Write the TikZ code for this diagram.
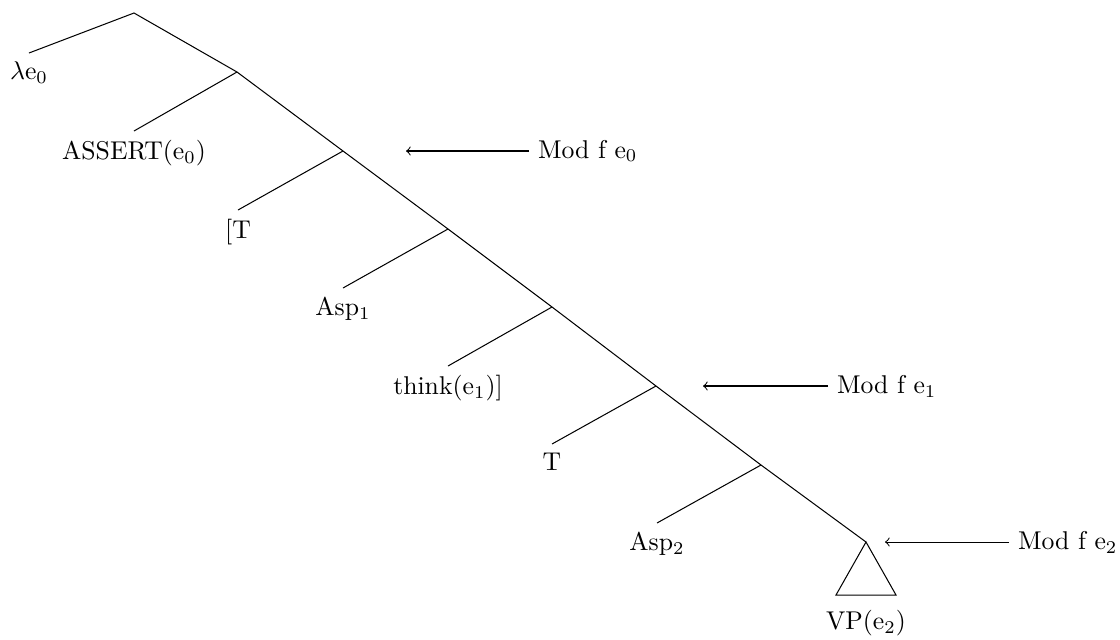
\documentclass[tikz,border=0pt]{standalone}
\begin{document}
\begin{tikzpicture}[x=0.389pt,y=-0.389pt,
  edge/.style={draw,line width=0.4pt},
  lbl/.style={anchor=north,inner sep=3.33pt},
  modlbl/.style={anchor=west,inner sep=3.33pt},
  modarrow/.style={->,line width=0.4pt}]
\useasboundingbox (0,0) rectangle (1120,639);
% spine
\coordinate (r) at (134,13);
\coordinate (s1) at (237,72);
\coordinate (s2) at (343,151);
\coordinate (s3) at (448,229);
\coordinate (s4) at (552,307);
\coordinate (s5) at (656,386);
\coordinate (s6) at (761,465);
\coordinate (s7) at (866,542);
% left leaves
\coordinate (l0) at (29,53);
\coordinate (l1) at (134,131);
\coordinate (l2) at (238,210);
\coordinate (l3) at (343,288);
\coordinate (l4) at (448,366);
\coordinate (l5) at (552,444);
\coordinate (l6) at (657,523);
% triangle
\coordinate (tl) at (836,595);
\coordinate (tr) at (896,595);
\draw[edge] (l0) -- (r) -- (s1) -- (s2) -- (s3) -- (s4) -- (s5) -- (s6) -- (s7);
\draw[edge] (s1) -- (l1);
\draw[edge] (s2) -- (l2);
\draw[edge] (s3) -- (l3);
\draw[edge] (s4) -- (l4);
\draw[edge] (s5) -- (l5);
\draw[edge] (s6) -- (l6);
\draw[edge] (s7) -- (tl) -- (tr) -- cycle;
\node[lbl] (n0) at (l0) {$\lambda$e$_0$};
\node[lbl] (n1) at (l1) {ASSERT(e$_0$)};
\node[lbl] (n2) at (l2) {[T};
\node[lbl] (n3) at (l3) {Asp$_1$};
\node[lbl] (n4) at (l4) {think(e$_1$)]};
\node[lbl] (n5) at (l5) {T};
\node[lbl] (n6) at (l6) {Asp$_2$};
\node[lbl] (vp) at (866,601) {VP(e$_2$)};
% Mod labels
\node[modlbl] (m0) at (529,151) {Mod f e$_0$};
\node[modlbl] (m1) at (828,386) {Mod f e$_1$};
\node[modlbl] (m2) at (1009,542) {Mod f e$_2$};
\coordinate (a0) at (406,151);
\coordinate (a1) at (703,386);
\coordinate (a2) at (885,542);
\draw[modarrow] (m0.west) -- (a0);
\draw[modarrow] (m1.west) -- (a1);
\draw[modarrow] (m2.west) -- (a2);
\end{tikzpicture}
\end{document}
